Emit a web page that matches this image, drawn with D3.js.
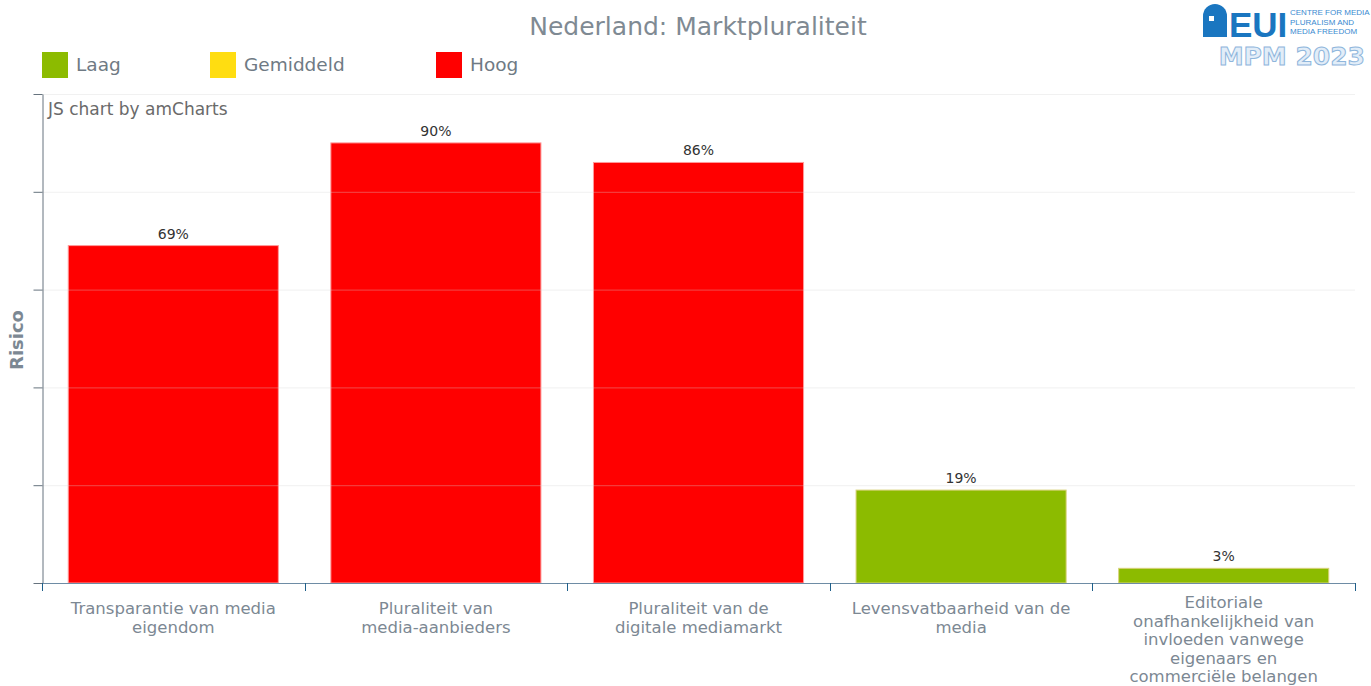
<!DOCTYPE html>
<html>
<head>
<meta charset="utf-8">
<script src="https://cdn.jsdelivr.net/npm/d3@7"></script>
<style>
  body { margin: 0; background: #fff; }
  svg { font-family: "DejaVu Sans", Verdana, sans-serif; }
</style>
</head>
<body>
<svg id="chart" width="1371" height="686"></svg>
<script>
// data
const categories = [
  ["Transparantie van media", "eigendom"],
  ["Pluraliteit van", "media-aanbieders"],
  ["Pluraliteit van de", "digitale mediamarkt"],
  ["Levensvatbaarheid van de", "media"],
  ["Editoriale", "onafhankelijkheid van", "invloeden vanwege", "eigenaars en", "commerciële belangen"]
];
const risk = [69, 90, 86, 19, 3];
const levels = ["Laag", "Gemiddeld", "Hoog"];
const levelColors = ["#8cbb00", "#ffdd11", "#ff0000"];
const levelBorders = ["#d8d27a", "#ffe36a", "#ff9a9a"];
const yTicks = [0, 20, 40, 60, 80, 100];

function levelOf(v) {
  // MPM bands: <=33 low, 34-66 medium, >66 high
  if (v <= 33) return 0;
  if (v <= 66) return 1;
  return 2;
}

const svg = d3.select("#chart");
const margin = {left: 42, right: 16, top: 94, bottom: 103};
const W = 1371, H = 686;

let x = d3.scaleBand()
  .domain(d3.range(categories.length))
  .range([margin.left, W - margin.right])
  .paddingInner(0.2)
  .paddingOuter(0.1);

let y = d3.scaleLinear()
  .domain([0, 100])
  .range([H - margin.bottom, margin.top]);

// title
svg.append("text")
  .attr("x", 698).attr("y", 35)
  .attr("text-anchor", "middle")
  .attr("font-size", 25)
  .attr("fill", "#7f8a93")
  .text("Nederland: Marktpluraliteit");

// legend
const legendX = [42, 210, 436];
levels.forEach((name, i) => {
  let g = svg.append("g").attr("transform", `translate(${legendX[i]},52)`);
  g.append("rect").attr("width", 26).attr("height", 26).attr("fill", levelColors[i]);
  g.append("text").attr("x", 34).attr("y", 19)
    .attr("font-size", 18.5).attr("fill", "#6f7a84").text(name);
});

// bars
svg.append("g").selectAll("rect")
  .data(risk)
  .enter()
  .append("rect")
  .attr("x", (d, i) => x(i))
  .attr("width", x.bandwidth())
  .attr("y", d => y(d))
  .attr("height", d => y(0) - y(d))
  .attr("fill", d => levelColors[levelOf(d)])
  .attr("stroke", d => levelBorders[levelOf(d)])
  .attr("stroke-width", 1);

// grid, drawn over the bars like amCharts does
svg.append("g").selectAll("line")
  .data(yTicks.slice(1))
  .enter()
  .append("line")
  .attr("x1", margin.left).attr("x2", W - margin.right)
  .attr("y1", d => y(d) + 0.5).attr("y2", d => y(d) + 0.5)
  .attr("stroke", "#d8d8d8")
  .attr("stroke-opacity", 0.35);

// y axis
const yAxis = d3.axisLeft(y).tickValues(yTicks).tickFormat("").tickSize(9).tickSizeOuter(0);
let yg = svg.append("g").attr("transform", `translate(${margin.left + 0.5},0)`).call(yAxis);
yg.selectAll("path, line").attr("stroke", "#66737e");

// x axis
const xEdges = d3.range(categories.length + 1).map(i => margin.left + i * x.step());
let xg = svg.append("g");
xg.append("line")
  .attr("x1", margin.left).attr("x2", W - margin.right)
  .attr("y1", y(0) + 0.5).attr("y2", y(0) + 0.5)
  .attr("stroke", "#6e8ca5");
xg.selectAll(".tk")
  .data(xEdges)
  .enter()
  .append("line")
  .attr("x1", d => Math.round(d) + 0.5).attr("x2", d => Math.round(d) + 0.5)
  .attr("y1", y(0)).attr("y2", y(0) + 8)
  .attr("stroke", "#1f5f8a");

// category labels
categories.forEach((lines, i) => {
  let t = svg.append("text")
    .attr("x", x(i) + x.bandwidth() / 2)
    .attr("y", lines.length > 3 ? 608 : 614)
    .attr("text-anchor", "middle")
    .attr("font-size", 16.5)
    .attr("fill", "#7c8893");
  lines.forEach((l, j) => {
    t.append("tspan")
      .attr("x", x(i) + x.bandwidth() / 2)
      .attr("dy", j === 0 ? 0 : 18.5)
      .text(l);
  });
});

// value labels
svg.append("g").selectAll("text")
  .data(risk)
  .enter()
  .append("text")
  .attr("x", (d, i) => x(i) + x.bandwidth() / 2)
  .attr("y", d => y(d) - 7)
  .attr("text-anchor", "middle")
  .attr("font-size", 14)
  .attr("fill", "#333")
  .text(d => d + "%");

// axis title
svg.append("text")
  .attr("transform", "translate(23,340) rotate(-90)")
  .attr("text-anchor", "middle")
  .attr("font-size", 18)
  .attr("font-weight", "bold")
  .attr("fill", "#7c8893")
  .text("Risico");

// credit
svg.append("text")
  .attr("x", 48).attr("y", 115)
  .attr("font-size", 17)
  .attr("fill", "#6a6a6a")
  .text("JS chart by amCharts");

// EUI / MPM logo
let logo = svg.append("g");
logo.append("path")
  .attr("d", "M1203,37 L1203,16 A12,12 0 0 1 1227,16 L1227,37 Z")
  .attr("fill", "#1a76c0");
logo.append("rect").attr("x", 1209).attr("y", 16).attr("width", 5).attr("height", 5).attr("fill", "#fff");
logo.append("text")
  .attr("x", 1229).attr("y", 37)
  .attr("font-size", 35).attr("font-weight", "bold")
  .attr("font-family", "'Liberation Sans Narrow', 'Liberation Sans', sans-serif")
  .attr("fill", "#1a76c0")
  .text("EUI");
["CENTRE FOR MEDIA", "PLURALISM AND", "MEDIA FREEDOM"].forEach((s, i) => {
  logo.append("text")
    .attr("x", 1290).attr("y", 15 + i * 9.5)
    .attr("font-size", 8)
    .attr("font-family", "'Liberation Sans Narrow', 'Liberation Sans', sans-serif")
    .attr("fill", "#3a8ad0")
    .text(s);
});
logo.append("text")
  .attr("x", 1365).attr("y", 65)
  .attr("text-anchor", "end")
  .attr("font-size", 25).attr("font-weight", "bold")
  .attr("fill", "#e2edf8")
  .attr("stroke", "#8fb6dc")
  .attr("stroke-width", 1)
  .text("MPM 2023");
</script>
</body>
</html>
